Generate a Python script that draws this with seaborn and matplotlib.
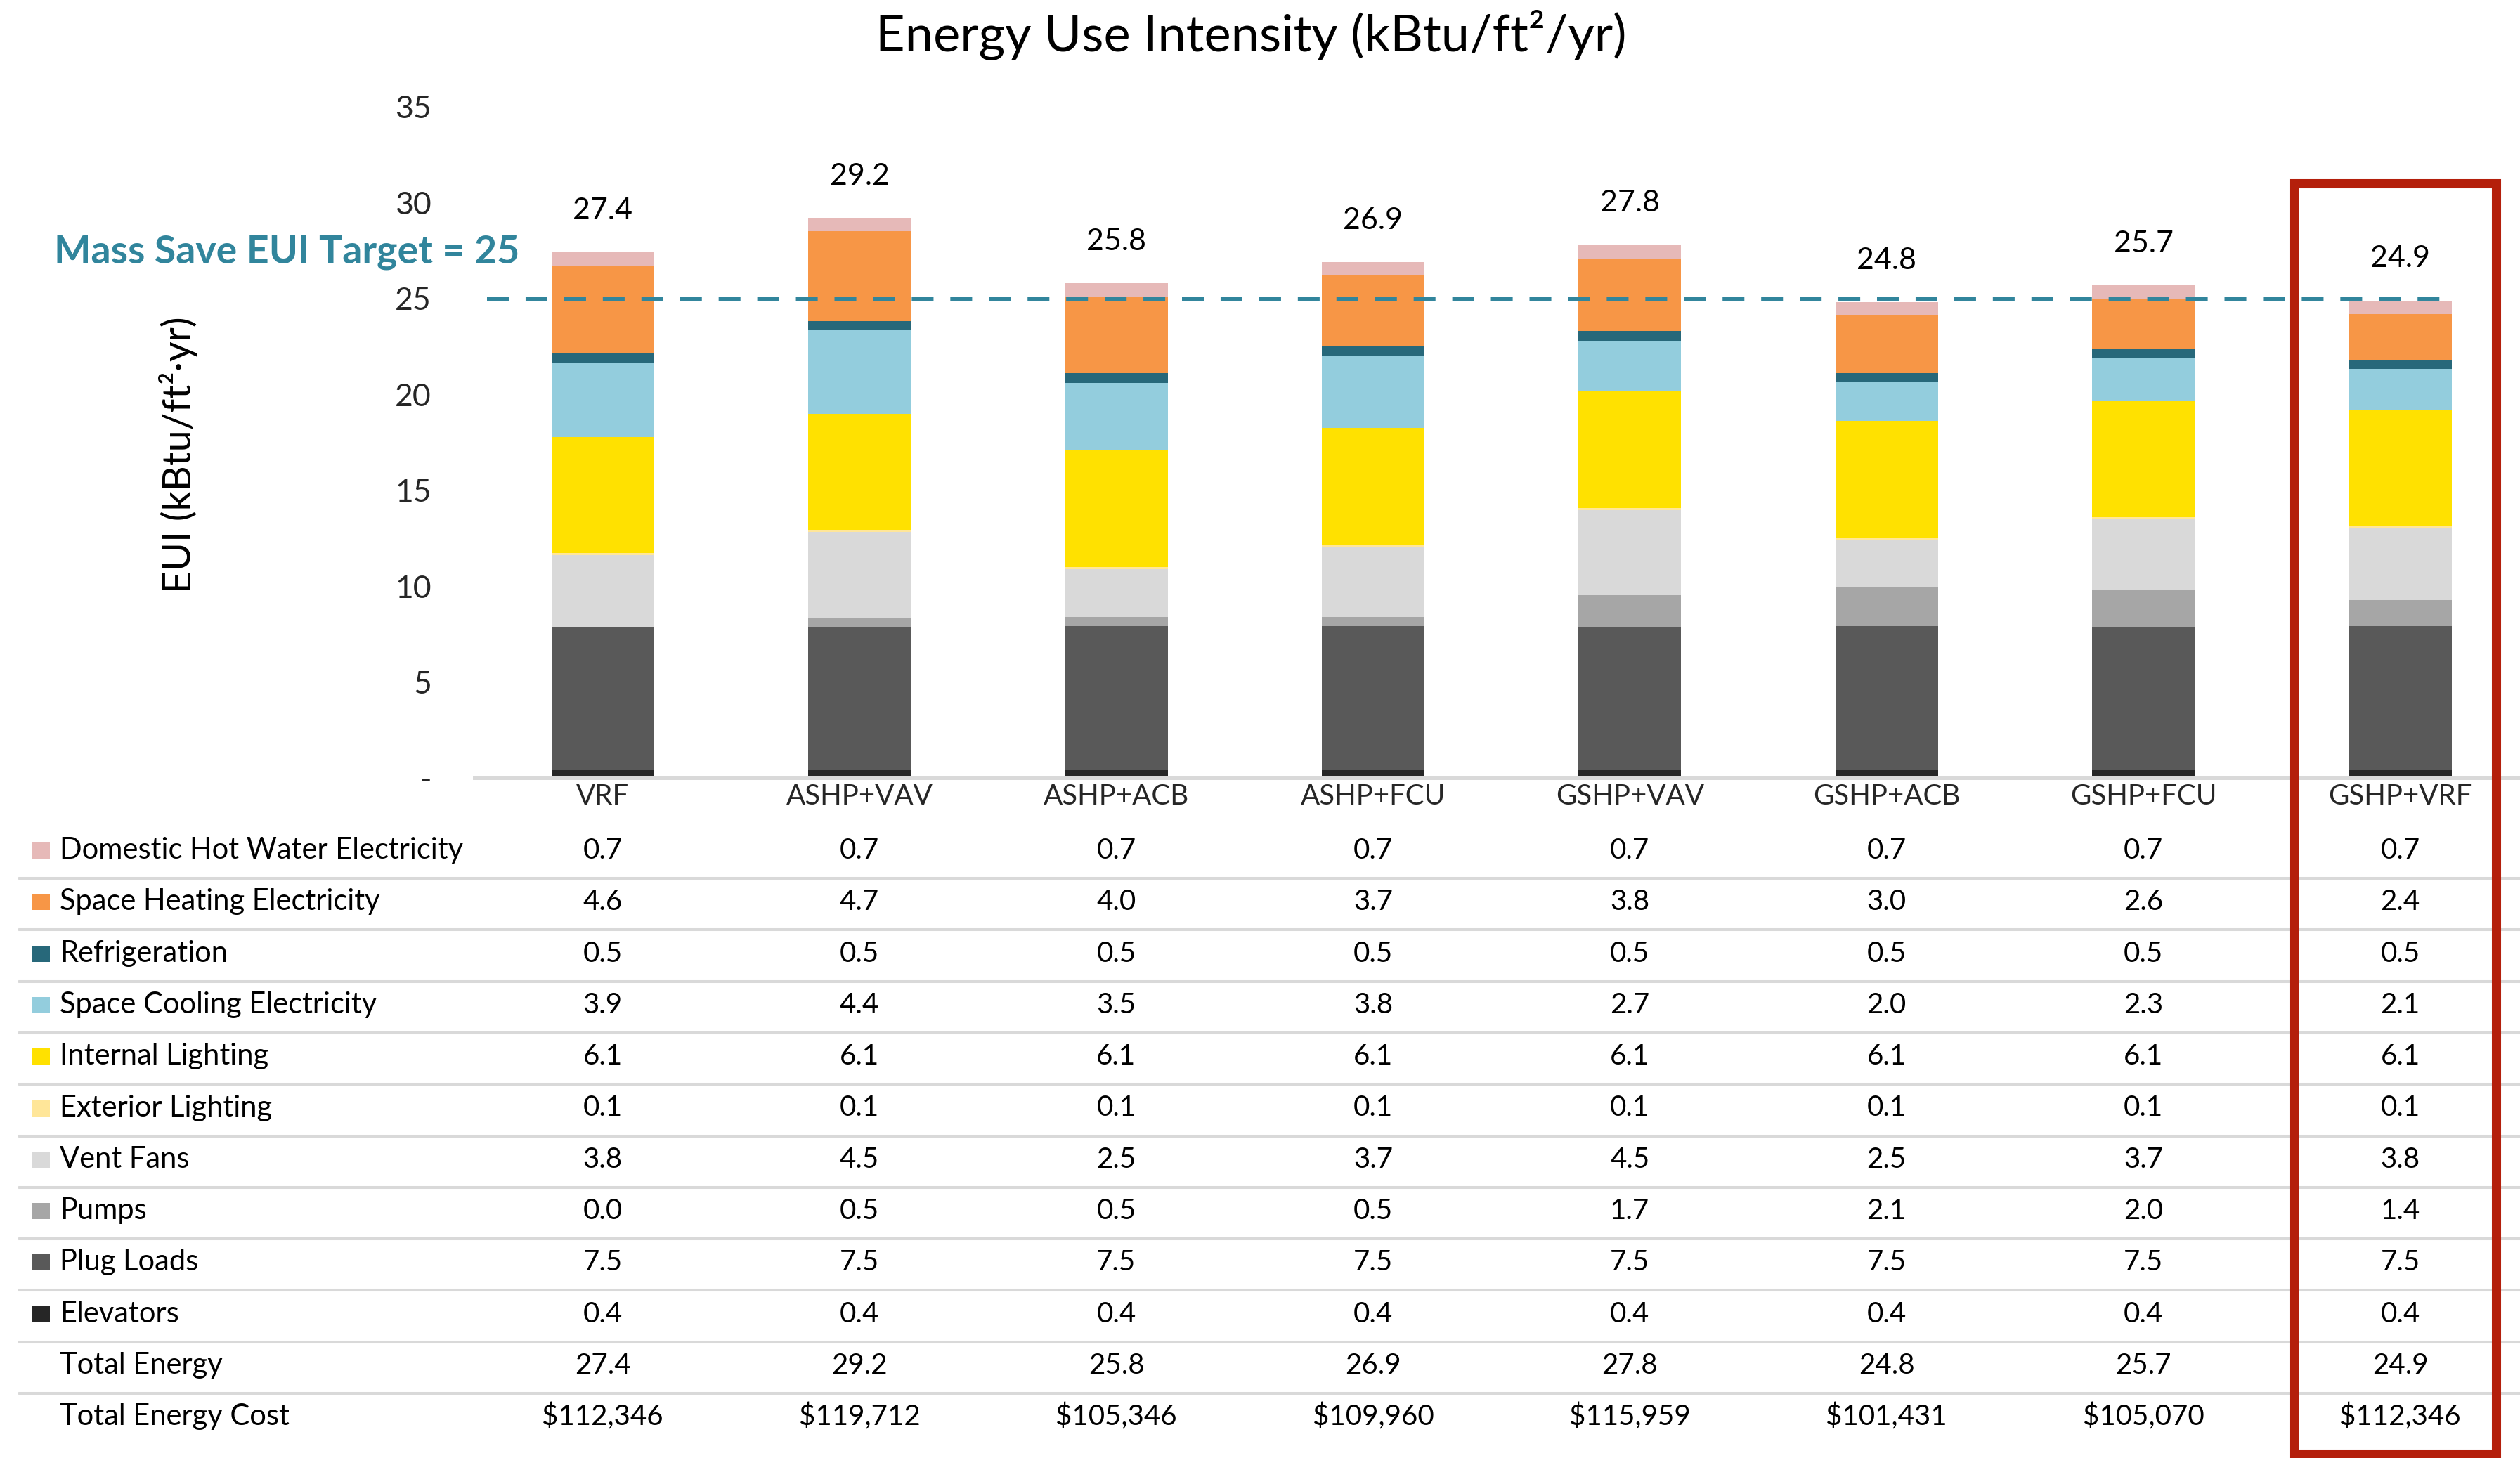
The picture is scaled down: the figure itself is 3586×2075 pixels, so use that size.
import numpy as np
import matplotlib
matplotlib.use("Agg")
import matplotlib.pyplot as plt
from matplotlib.patches import Rectangle
from matplotlib.lines import Line2D
from matplotlib.transforms import blended_transform_factory
import seaborn as sns

# HVAC system options (one stacked bar each)
systems = ["VRF", "ASHP+VAV", "ASHP+ACB", "ASHP+FCU",
           "GSHP+VAV", "GSHP+ACB", "GSHP+FCU", "GSHP+VRF"]

# End-use EUI components, kBtu/ft2/yr
elevators         = [0.4, 0.4, 0.4, 0.4, 0.4, 0.4, 0.4, 0.4]
plug_loads        = [7.46, 7.46, 7.5, 7.5, 7.46, 7.5, 7.46, 7.5]
pumps             = [0.0, 0.5, 0.5, 0.5, 1.66, 2.06, 1.96, 1.36]
vent_fans         = [3.76, 4.46, 2.5, 3.66, 4.46, 2.46, 3.66, 3.76]
exterior_lighting = [0.1, 0.1, 0.1, 0.1, 0.1, 0.1, 0.1, 0.1]
internal_lighting = [6.06, 6.06, 6.1, 6.1, 6.06, 6.1, 6.06, 6.1]
space_cooling     = [3.86, 4.36, 3.5, 3.76, 2.66, 2.0, 2.26, 2.1]
refrigeration     = [0.5, 0.5, 0.5, 0.5, 0.5, 0.5, 0.5, 0.5]
space_heating     = [4.56, 4.66, 4.0, 3.68, 3.8, 2.98, 2.6, 2.38]
domestic_hw       = [0.7, 0.7, 0.7, 0.7, 0.7, 0.7, 0.7, 0.7]

total_energy = [27.4, 29.2, 25.8, 26.9, 27.8, 24.8, 25.7, 24.9]
total_cost   = [112346, 119712, 105346, 109960, 115959, 101431, 105070, 112346]

eui_target = 25

# Stacking order, bottom to top
layers = [
    ("Elevators", elevators, "#262626"),
    ("Plug Loads", plug_loads, "#595959"),
    ("Pumps", pumps, "#A6A6A6"),
    ("Vent Fans", vent_fans, "#D9D9D9"),
    ("Exterior Lighting", exterior_lighting, "#FFE699"),
    ("Internal Lighting", internal_lighting, "#FFE100"),
    ("Space Cooling Electricity", space_cooling, "#93CDDD"),
    ("Refrigeration", refrigeration, "#27687A"),
    ("Space Heating Electricity", space_heating, "#F79646"),
    ("Domestic Hot Water Electricity", domestic_hw, "#E6B9B8"),
]

TEAL = "#31859C"
GRID = "#D9D9D9"

sns.set_style("white")
plt.rcParams["font.family"] = ["Lato", "DejaVu Sans"]
plt.rcParams["text.color"] = "black"

W, H = 3586, 2075
fig = plt.figure(figsize=(W / 100, H / 100), dpi=100)


def fx(px):
    return px / W


def fy(py):
    return 1 - py / H


ax = fig.add_axes([fx(675), fy(1107), 8 * 365.4 / W, (1107 - 152) / H])

base = np.zeros(len(systems))
for name, vals, col in layers:
    sns.barplot(x=systems, y=vals, order=systems, color=col, saturation=1,
                width=0.4, errorbar=None, bottom=base.copy(),
                edgecolor="none", linewidth=0, ax=ax)
    base += np.asarray(vals, dtype=float)

ax.set_xlim(-0.5, 7.5)
ax.set_ylim(0, 35)
ax.set_xlabel("")
ax.set_ylabel("")

# Target line
ax.plot([-0.45, 7.2], [eui_target, eui_target], color=TEAL, lw=4.3,
        dashes=(5.2, 4.0), dash_capstyle="butt", zorder=5)

# Total labels above each bar
for i, t in enumerate(total_energy):
    ax.annotate(f"{t:.1f}", (i, t), xytext=(0, 34), textcoords="offset points",
                ha="center", va="baseline", fontsize=31)

yt = list(range(0, 36, 5))
ax.set_yticks(yt)
ax.set_yticklabels(["-"] + [str(v) for v in yt[1:]])
ax.tick_params(axis="y", length=0, pad=44, labelsize=32)
ax.set_xticks(range(len(systems)))
ax.set_xticklabels(systems)
ax.tick_params(axis="x", length=0, pad=6, labelsize=29)
sns.despine(ax=ax, left=True)
ax.spines["bottom"].set_color(GRID)
ax.spines["bottom"].set_linewidth(3.6)

# Titles
fig.text(fx(1780), fy(73), "Energy Use Intensity (kBtu/ft\u00b2/yr)",
         ha="center", va="baseline", fontsize=52)
fig.text(fx(254), fy(647), "EUI (kBtu/ft\u00b2\u00b7yr)", rotation=90,
         ha="center", va="center", fontsize=40)
fig.text(fx(77), fy(375), "Mass Save EUI Target = 25", color=TEAL,
         fontweight="bold", fontsize=40, ha="left", va="baseline")

# Data table below the chart
col_tr = blended_transform_factory(ax.transData, fig.transFigure)
table_rows = [(name, vals, col) for name, vals, col in layers[::-1]]
table_rows.append(("Total Energy", total_energy, None))
table_rows.append(("Total Energy Cost", total_cost, None))

for r, (name, vals, col) in enumerate(table_rows):
    base_y = 1222 + 73.3 * r
    fig.text(fx(85), fy(base_y), name, ha="left", va="baseline", fontsize=30)
    if col is not None:
        fig.add_artist(Rectangle((fx(45), fy(base_y)), 26 / W, 23 / H,
                                 transform=fig.transFigure, facecolor=col,
                                 edgecolor="none"))
    for i, v in enumerate(vals):
        txt = f"${v:,}" if name == "Total Energy Cost" else f"{v:.1f}"
        ax.text(i, fy(base_y), txt, transform=col_tr, ha="center",
                va="baseline", fontsize=29, clip_on=False)
    if r < len(table_rows) - 1:
        sy = fy(base_y + 28)
        fig.add_artist(Line2D([fx(27), 1], [sy, sy], transform=fig.transFigure,
                              color=GRID, lw=2.9))

# Highlight box around the selected option
fig.add_artist(Rectangle((fx(3264), fy(2069)), (3552 - 3264) / W,
                         (2069 - 261) / H, transform=fig.transFigure,
                         fill=False, edgecolor="#B41F0B", lw=9.4, zorder=10))

fig.savefig("out.png", dpi=100)
